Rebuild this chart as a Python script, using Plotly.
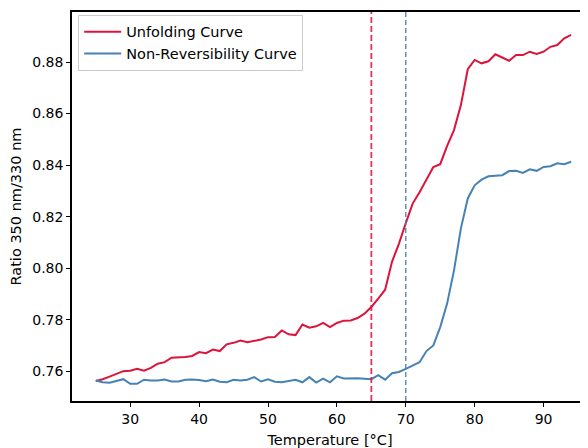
import plotly.graph_objects as go

# temperatures in degrees C, one reading per degree
temperature = list(range(25, 95))

unfolding = [
    0.7563, 0.7570, 0.7580, 0.7590, 0.7601, 0.7603, 0.7610, 0.7603, 0.7614, 0.7630,
    0.7636, 0.7653, 0.7654, 0.7656, 0.7660, 0.7675, 0.7671, 0.7685, 0.7679, 0.7705,
    0.7711, 0.7720, 0.7713, 0.7719, 0.7724, 0.7733, 0.7734, 0.7759, 0.7744, 0.7741,
    0.7782, 0.7770, 0.7775, 0.7788, 0.7772, 0.7788, 0.7797, 0.7798, 0.7807, 0.7824,
    0.7850, 0.7882, 0.7917, 0.8025, 0.8095, 0.8175, 0.8251, 0.8295, 0.8345, 0.8393,
    0.8404, 0.8475, 0.8536, 0.8633, 0.8772, 0.8808, 0.8795, 0.8803, 0.8830, 0.8817,
    0.8805, 0.8827, 0.8827, 0.8840, 0.8831, 0.8840, 0.8859, 0.8866, 0.8892, 0.8905,
]

non_reversibility = [
    0.7565, 0.7558, 0.7556, 0.7562, 0.7570, 0.7552, 0.7552, 0.7568, 0.7565, 0.7565,
    0.7569, 0.7561, 0.7561, 0.7568, 0.7569, 0.7567, 0.7562, 0.7569, 0.7560, 0.7558,
    0.7568, 0.7565, 0.7568, 0.7578, 0.7561, 0.7570, 0.7560, 0.7558, 0.7562, 0.7568,
    0.7558, 0.7578, 0.7557, 0.7572, 0.7558, 0.7581, 0.7573, 0.7574, 0.7574, 0.7572,
    0.7570, 0.7586, 0.7568, 0.7593, 0.7598, 0.7610, 0.7623, 0.7636, 0.7679, 0.7701,
    0.7772, 0.7863, 0.7992, 0.8155, 0.8271, 0.8322, 0.8344, 0.8357, 0.8359, 0.8361,
    0.8377, 0.8378, 0.8370, 0.8384, 0.8378, 0.8393, 0.8396, 0.8407, 0.8404, 0.8413,
]

# melting temperatures marked with dashed lines
tm_unfolding = 65
tm_non_reversibility = 70

x_ticks = [30, 40, 50, 60, 70, 80, 90]
y_ticks = [0.76, 0.78, 0.80, 0.82, 0.84, 0.86, 0.88]

red = "#DC143C"
blue = "#4682B4"
font = "DejaVu Sans, sans-serif"

fig = go.Figure()

fig.add_trace(go.Scatter(x=temperature, y=unfolding, mode="lines",
                         name="Unfolding Curve", line=dict(color=red, width=2)))
fig.add_trace(go.Scatter(x=temperature, y=non_reversibility, mode="lines",
                         name="Non-Reversibility Curve", line=dict(color=blue, width=2)))

fig.add_vline(x=tm_unfolding, line=dict(color=red, width=1.8, dash="6px,3px"), opacity=0.85)
fig.add_vline(x=tm_non_reversibility, line=dict(color=blue, width=1.3, dash="5px,3px"))

# the page body has an 8px margin, so the figure is 8px smaller than the window
fig.update_layout(
    width=580, height=440,
    margin=dict(l=64, r=0, t=4, b=47),
    paper_bgcolor="white", plot_bgcolor="white",
    font=dict(family=font, size=14, color="black"),
    showlegend=True,
    legend=dict(x=0.012, y=0.993, xanchor="left", yanchor="top",
                bgcolor="rgba(255,255,255,0.8)", bordercolor="#cccccc", borderwidth=1,
                font=dict(size=14.5), itemwidth=37, tracegroupgap=0),
)

fig.update_xaxes(
    range=[21.55, 96.45], tickvals=x_ticks, ticks="outside", ticklen=4, tickwidth=1,
    tickcolor="black", showline=True, linecolor="black", linewidth=1.5, mirror=True,
    showgrid=False, zeroline=False, automargin=False, tickfont=dict(size=14),
    title=dict(text="Temperature [°C]", font=dict(size=14.5)),
)
fig.update_yaxes(
    range=[0.74854, 0.8994], tickvals=y_ticks, tickformat=".2f", ticks="outside",
    ticklen=4, tickwidth=1, tickcolor="black", showline=True, linecolor="black",
    linewidth=1.5, mirror=False, showgrid=False, zeroline=False, automargin=False,
    tickfont=dict(size=14),
    title=dict(text="Ratio 350 nm/330 nm", font=dict(size=14.5)),
)

fig.write_html("out.html")
